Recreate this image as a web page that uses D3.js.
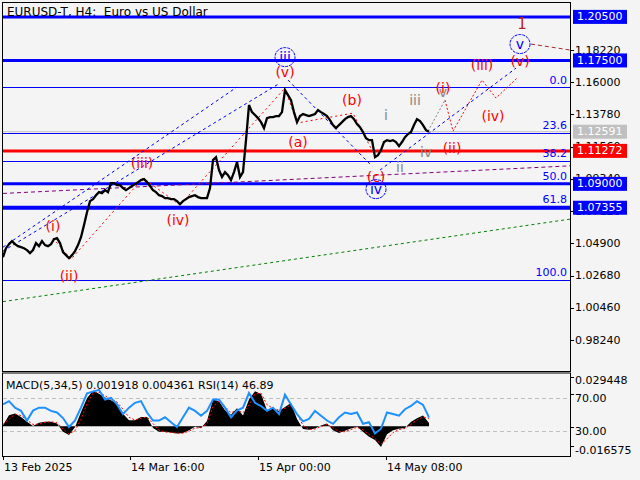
<!DOCTYPE html>
<html><head><meta charset="utf-8">
<script src="https://cdn.jsdelivr.net/npm/d3@7/dist/d3.min.js"></script>
<style>
html,body{margin:0;padding:0;background:#f4f4f4;}
svg{display:block;font-family:"DejaVu Sans",sans-serif;}
text{white-space:pre;}
</style></head><body>
<svg id="c" width="640" height="480"></svg>
<script>
// ---------------- DATA ----------------
const chartTitle = "EURUSD-T, H4:  Euro vs US Dollar";
const indicatorTitle = "MACD(5,34,5) 0.001918 0.004361 RSI(14) 46.89";
const priceStep = 3;          // bars between close samples
const closes = [
 1.0395,1.0457,1.0485,1.0506,1.0485,1.0471,1.0464,1.0457,1.0444,1.0423,
 1.0444,1.0492,1.0471,1.0506,1.0478,1.0471,1.0485,1.0519,1.0526,1.0492,
 1.0430,1.0409,1.0388,1.0409,1.0437,1.0478,1.0533,1.0616,1.0705,1.0781,
 1.0795,1.0822,1.0843,1.0836,1.0857,1.0843,1.0905,1.0905,1.0891,1.0891,
 1.0871,1.0857,1.0871,1.0885,1.0898,1.0912,1.0926,1.0933,1.0912,1.0885,
 1.0857,1.0843,1.0822,1.0816,1.0802,1.0802,1.0795,1.0795,1.0781,1.0760,
 1.0781,1.0795,1.0809,1.0816,1.0822,1.0809,1.0802,1.0802,1.0802,1.0871,
 1.1064,1.1084,1.0995,1.0947,1.0981,1.0960,1.0926,1.0981,1.1050,1.0947,
 1.0981,1.1201,1.1443,1.1394,1.1374,1.1353,1.1325,1.1284,1.1353,1.1360,
 1.1360,1.1367,1.1367,1.1394,1.1546,1.1511,1.1477,1.1394,1.1325,1.1367,
 1.1381,1.1374,1.1367,1.1374,1.1381,1.1408,1.1394,1.1381,1.1367,1.1339,
 1.1305,1.1284,1.1305,1.1325,1.1346,1.1360,1.1367,1.1346,1.1312,1.1291,
 1.1257,1.1215,1.1201,1.1201,1.1084,1.1098,1.1133,1.1188,1.1201,1.1195,
 1.1201,1.1188,1.1160,1.1188,1.1222,1.1243,1.1257,1.1305,1.1346,1.1332,
 1.1305,1.1270,1.1259
];
const indStep = 6;            // bars between indicator samples
const macdMain = [
 0.0006,0.0061,0.0071,0.0052,0.0025,0.0002,0.0020,0.0025,0.0025,0.0015,
 -0.0031,-0.0049,-0.0005,0.0080,0.0156,0.0200,0.0182,0.0160,0.0145,0.0126,
 0.0070,0.0034,0.0034,0.0052,0.0052,-0.0010,-0.0031,-0.0031,-0.0035,-0.0040,
 -0.0037,-0.0022,-0.0003,-0.0010,0.0030,0.0150,0.0140,0.0089,0.0065,0.0100,
 0.0060,0.0150,0.0195,0.0180,0.0090,0.0098,0.0085,0.0108,0.0130,0.0040,
 -0.0015,-0.0020,-0.0012,0.0005,0.0015,-0.0022,-0.0038,-0.0025,-0.0012,-0.0003,
 -0.0031,-0.0058,-0.0077,-0.0115,-0.0045,-0.0022,-0.0014,-0.0010,0.0025,0.0045,
 0.0060,0.0019
];
const macdSignal = [
 0.0010,0.0040,0.0068,0.0060,0.0035,0.0010,0.0012,0.0022,0.0025,0.0020,
 -0.0015,-0.0042,-0.0025,0.0040,0.0125,0.0185,0.0190,0.0170,0.0150,0.0135,
 0.0095,0.0050,0.0035,0.0045,0.0052,0.0015,-0.0022,-0.0032,-0.0034,-0.0038,
 -0.0038,-0.0028,-0.0010,-0.0008,0.0015,0.0110,0.0140,0.0110,0.0075,0.0090,
 0.0075,0.0120,0.0180,0.0185,0.0120,0.0100,0.0090,0.0100,0.0120,0.0070,
 0.0005,-0.0018,-0.0015,-0.0002,0.0010,-0.0008,-0.0030,-0.0030,-0.0018,-0.0006,
 -0.0020,-0.0045,-0.0068,-0.0100,-0.0070,-0.0035,-0.0018,-0.0012,0.0010,0.0035,
 0.0052,0.0044
];
const rsiValues = [
 62.5,66.5,58.6,54.7,43.0,55.0,58.6,58.6,54.7,52.7,
 46.0,35.1,43.0,58.6,76.0,78.0,80.2,68.4,70.4,62.5,
 50.8,58.6,64.5,66.5,52.7,43.0,43.0,46.9,41.0,35.1,
 46.9,58.6,54.7,48.8,54.7,68.4,68.4,58.6,46.9,55.0,
 58.6,76.3,64.5,60.6,54.7,58.6,50.8,74.3,62.5,50.8,
 42.0,44.9,54.7,48.8,43.0,39.0,46.9,52.7,50.8,52.7,
 39.0,41.0,27.3,33.1,52.7,50.8,48.8,56.7,60.6,66.5,
 62.0,46.89
];
const priceTicks = [1.18220,1.16000,1.13780,1.11560,1.09340,1.07120,1.04900,1.02680,1.00460,0.98240];
const levelPrices = [1.20500,1.17500,1.12591,1.11272,1.09000,1.07355];
const fibHigh = 1.1567, fibLow = 1.0238;
const fibRatios = [0.0,23.6,38.2,50.0,61.8,100.0];
const macdRange = [-0.016575, 0.029448];
const rsiLevels = [70, 30];
const timeLabels = ["13 Feb 2025","14 Mar 16:00","15 Apr 00:00","14 May 08:00"];
const timeLabelBars = [0,127,255,383];
const barCount = 567;
// annotation geometry in (bar, price)
const blueChannelA = [[0,1.0464],[234,1.1567]];
const blueChannelB = [[0,1.0437],[277,1.1594]];
const blueWaveDown = [[285,1.1615],[369,1.1022]];
const blueWaveUp = [[377,1.0995],[513,1.1697]];
const purpleTrend = [[0,1.0834],[567,1.1024]];
const greenTrend = [[0,1.0089],[567,1.0657]];
const darkRedTarget = [[528,1.1863],[567,1.1822]];
const redWavePath = [[50,1.0526],[68,1.0381],[140,1.0940],[177,1.0754],[282,1.1560],[294,1.1319],[350,1.1387],[373,1.1077]];
const grayProjection = [[425,1.1263],[442,1.1477]];
const redProjection = [[442,1.1477],[450,1.1263],[479,1.1615],[493,1.1491],[515,1.1635]];
const redLabels = [["(i)",50,1.0609],["(ii)",66,1.0264],["(iii)",139,1.1043],["(iv)",175,1.0650],["(v)",282,1.1670],
  ["(a)",295,1.1188],["(b)",349,1.1477],["(c)",373,1.0947],
  ["(i)",440,1.1560],["(ii)",449,1.1146],["(iii)",479,1.1718],["(iv)",490,1.1367],["(v)",517,1.1746]];
const grayLabels = [["i",383,1.1374],["ii",397,1.1015],["iii",412,1.1477],["iv",423,1.1119],["v",440,1.1532]];
const circleLabels = [["iii",282,1.1773],["iv",373,1.0864],["v",517,1.1863]];
const degreeLabels = [["1",519,1.2001]];

// ---------------- DRAWING ----------------
const svg = d3.select('#c');
const BG = '#f4f4f4';
svg.append('rect').attr('width',640).attr('height',480).attr('fill',BG);
const L=3, R=570, T=3, B=371, IT=373.5, IB=456;

const x = d3.scaleLinear().domain([0,barCount]).range([L,R]);
const y = d3.scaleLinear().domain([0.9824,1.1822]).range([340.1,50]);
const yM = d3.scaleLinear().domain(macdRange).range([IB,IT]);
const yR = d3.scaleLinear().domain([0,100]).range([IB,IT]);

const defs = svg.append('defs');
defs.append('clipPath').attr('id','cm').append('rect').attr('x',L).attr('y',T).attr('width',R-L).attr('height',B-T);
defs.append('clipPath').attr('id','ci').append('rect').attr('x',L).attr('y',IT).attr('width',R-L).attr('height',IB-IT);

const main = svg.append('g').attr('clip-path','url(#cm)');
const line = d3.line().x(d=>x(d[0])).y(d=>y(d[1]));

// fib levels
const fibPrice = r => fibHigh - (fibHigh-fibLow)*r/100;
main.selectAll('.fib').data(fibRatios).join('line')
  .attr('x1',L).attr('x2',R).attr('y1',r=>Math.round(y(fibPrice(r)))+0.5).attr('y2',r=>Math.round(y(fibPrice(r)))+0.5)
  .attr('stroke','#0000ff').attr('stroke-width',1);

// level lines
const levelColors = ['#0000ff','#0000ff','#c0c0c0','#ff0000','#0000ff','#0000ff'];
const levelWidths = [3,3,1,3,3,4];
main.selectAll('.lvl').data(levelPrices).join('line')
  .attr('x1',L).attr('x2',R).attr('y1',p=>y(p)).attr('y2',p=>y(p))
  .attr('stroke',(p,i)=>levelColors[i]).attr('stroke-width',(p,i)=>levelWidths[i]);

// trend / wave lines
function dashed(pts,color,dash,w){
  main.append('path').attr('d',line(pts)).attr('fill','none').attr('stroke',color)
    .attr('stroke-width',w||1).attr('stroke-dasharray',dash);
}
dashed(greenTrend,'#008000','3,3');
dashed(purpleTrend,'#800080','4,3');
dashed(blueChannelA,'#0000ff','3,3');
dashed(blueChannelB,'#0000ff','3,3');
dashed(blueWaveDown,'#0000ff','3,3');
dashed(blueWaveUp,'#0000ff','3,3');
dashed(darkRedTarget,'#a52a2a','4,3');
dashed(redWavePath,'#ff0000','2,3');
dashed(grayProjection,'#808080','2,2');
dashed(redProjection,'#ff0000','2,2');

// price
main.append('path').attr('d',line(closes.map((c,i)=>[i*priceStep,c])))
  .attr('fill','none').attr('stroke','#000').attr('stroke-width',2.3).attr('stroke-linejoin','miter');

// fib labels
svg.selectAll('.fibt').data(fibRatios).join('text')
  .attr('x',R-3).attr('y',r=>y(fibPrice(r))-7).attr('text-anchor','end').attr('dominant-baseline','central')
  .attr('font-size',11).attr('fill','#0000ff').text(r=>r.toFixed(1));

// wave labels
function labels(arr,color,size){
  main.selectAll(null).data(arr).join('text')
    .attr('x',d=>x(d[1])).attr('y',d=>y(d[2])).attr('text-anchor','middle').attr('dominant-baseline','central')
    .attr('font-size',size).attr('fill',color).text(d=>d[0]);
}
labels(redLabels,'#ff0000',14);
labels(grayLabels,'#888888',14);
labels(degreeLabels,'#b22222',15);
main.selectAll(null).data(circleLabels).join('ellipse')
  .attr('cx',d=>x(d[1])).attr('cy',d=>y(d[2])).attr('rx',10).attr('ry',9.5)
  .attr('fill','none').attr('stroke','#0000ff').attr('stroke-width',1).attr('stroke-dasharray','3,1');
labels(circleLabels,'#0000ff',14);

// title
svg.append('text').attr('x',7).attr('y',12).attr('dominant-baseline','central').attr('font-size',12).attr('fill','#000').text(chartTitle);

// borders
svg.append('rect').attr('x',L-0.5).attr('y',T-0.5).attr('width',R-L+1).attr('height',B-T+1).attr('fill','none').attr('stroke','#000');

// right axis
const ax = svg.append('g');
ax.selectAll('.tk').data(priceTicks).join('line').attr('x1',R).attr('x2',R+4).attr('y1',p=>Math.round(y(p))+0.5).attr('y2',p=>Math.round(y(p))+0.5).attr('stroke','#000');
ax.selectAll('.tl').data(priceTicks).join('text').attr('x',R+5).attr('y',p=>y(p)).attr('dominant-baseline','central')
  .attr('font-size',11).attr('fill','#000').text(p=>p.toFixed(5));
const boxColors = ['#0000ff','#0000ff','#c0c0c0','#ff0000','#0000ff','#0000ff'];
ax.selectAll('.bx').data(levelPrices).join('rect').attr('x',R+3).attr('y',p=>y(p)-7).attr('width',54).attr('height',14)
  .attr('fill',(p,i)=>boxColors[i]);
ax.selectAll('.bt').data(levelPrices).join('text').attr('x',R+7).attr('y',p=>y(p)).attr('dominant-baseline','central')
  .attr('font-size',11).attr('fill','#fff').text(p=>p.toFixed(5));

// ---------------- INDICATOR PANEL ----------------
const ind = svg.append('g').attr('clip-path','url(#ci)');
ind.selectAll('.rl').data(rsiLevels).join('line').attr('x1',L).attr('x2',R)
  .attr('y1',v=>Math.round(yR(v))+0.5).attr('y2',v=>Math.round(yR(v))+0.5)
  .attr('stroke','#c0c0c0').attr('stroke-dasharray','4,3');
const area = d3.area().x((d,i)=>x(i*indStep)).y0(yM(0)).y1(d=>yM(d));
ind.append('path').attr('d',area(macdMain)).attr('fill','#000');
ind.append('path').attr('d',d3.line().x((d,i)=>x(i*indStep)).y(d=>yM(d))(macdSignal))
  .attr('fill','none').attr('stroke','#ff0000').attr('stroke-width',1).attr('stroke-dasharray','2,2');
ind.append('path').attr('d',d3.line().x((d,i)=>x(i*indStep)).y(d=>yR(d))(rsiValues))
  .attr('fill','none').attr('stroke','#1e90ff').attr('stroke-width',2);
svg.append('text').attr('x',6).attr('y',385).attr('dominant-baseline','central').attr('font-size',11).attr('fill','#000').text(indicatorTitle);
svg.append('rect').attr('x',L-0.5).attr('y',IT-0.5).attr('width',R-L+1).attr('height',IB-IT+1).attr('fill','none').attr('stroke','#000');

const indLabels = [[macdRange[1].toFixed(6),yM(macdRange[1])+7],[rsiLevels[0].toFixed(2),yR(rsiLevels[0])],[rsiLevels[1].toFixed(2),yR(rsiLevels[1])],[macdRange[0].toFixed(6),yM(macdRange[0])-6]];
svg.selectAll('.il').data(indLabels).join('line').attr('x1',R).attr('x2',R+4).attr('y1',d=>Math.round(d[1]-4)+0.5).attr('y2',d=>Math.round(d[1]-4)+0.5).attr('stroke','#000');
svg.selectAll('.it').data(indLabels).join('text').attr('x',R+5).attr('y',d=>d[1]).attr('dominant-baseline','central')
  .attr('font-size',11).attr('fill','#000').text(d=>d[0]);

// time axis
svg.selectAll('.tt').data(timeLabelBars).join('line').attr('x1',b=>Math.round(x(b))+0.5).attr('x2',b=>Math.round(x(b))+0.5)
  .attr('y1',IB).attr('y2',IB+4).attr('stroke','#000');
svg.selectAll('.tx').data(timeLabels).join('text').attr('x',(t,i)=>x(timeLabelBars[i])+1).attr('y',467)
  .attr('dominant-baseline','central').attr('font-size',11).attr('fill','#000').text(t=>t);
</script>
</body></html>
